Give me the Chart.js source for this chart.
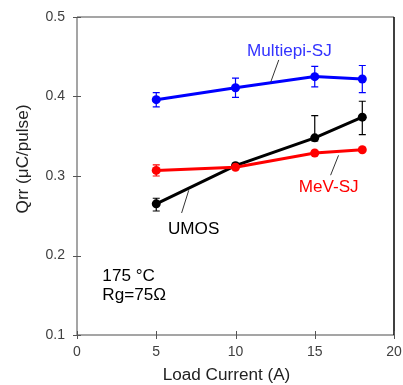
<!DOCTYPE html>
<html>
<head>
<meta charset="utf-8">
<script src="https://cdn.jsdelivr.net/npm/chart.js@4"></script>
<style>
body{margin:0;background:#fff;}
#wrap{width:403px;height:385px;}
</style>
</head>
<body>
<div id="wrap"><canvas id="c" width="403" height="385"></canvas></div>
<script>
// data
let current=[5,10,15,18];
let multiepi=[0.396,0.411,0.425,0.422];
let multiepiErr=[0.009,0.012,0.013,0.017];
let mev=[0.307,0.311,0.329,0.333];
let mevErr=[0.007,0.002,0.002,0.002];
let umos=[0.265,0.313,0.348,0.374];
let umosErrUp=[0.007,0.003,0.028,0.020];
let umosErrDown=[0.009,0.003,0.004,0.022];

let xTicks=[0,5,10,15,20];
let yTicks=[0.1,0.2,0.3,0.4,0.5];
let xTitle="Load Current (A)";
let yTitle="Qrr (μC/pulse)";

let FONT="'Liberation Sans', Arial, sans-serif";

function pts(ys){
return current.map((x,i)=>({x:x,y:ys[i]}));
}

/* labels with leader lines, in data units */
let notes=[
{text:"Multiepi-SJ",color:"#3333ff",x:13.4,y:0.456,line:[12.73,0.446,12.22,0.418]},
{text:"MeV-SJ",color:"#ff0000",x:15.88,y:0.285,line:[16.5,0.326,16.0,0.301]},
{text:"UMOS",color:"#000",x:7.36,y:0.232,line:[7.05,0.282,6.6,0.2535]},
{text:"175 °C",color:"#000",x:1.6,y:0.174,align:"left"},
{text:"Rg=75Ω",color:"#000",x:1.6,y:0.149,align:"left"}
];

// text a little wider than tall, like the original
function wideText(ctx,txt,x,y,align,rot){
ctx.save();
ctx.translate(x,y);
if(rot) ctx.rotate(rot);
ctx.scale(1.07,1);
ctx.textAlign=align||"center";
ctx.textBaseline="middle";
ctx.fillText(txt,0,0);
ctx.restore();
}

let errBars={
id:"errBars",
beforeDatasetsDraw(chart){
let ctx=chart.ctx, xs=chart.scales.x, ys=chart.scales.y;
chart.data.datasets.forEach(ds=>{
ctx.save();
ctx.strokeStyle=ds.borderColor;
ctx.lineWidth=1.2;
ds.data.forEach((p,i)=>{
let px=xs.getPixelForValue(p.x);
let top=ys.getPixelForValue(p.y+ds.errUp[i]);
let bot=ys.getPixelForValue(p.y-ds.errDown[i]);
ctx.beginPath();
ctx.moveTo(px,top);ctx.lineTo(px,bot);
ctx.moveTo(px-3.5,top);ctx.lineTo(px+3.5,top);
ctx.moveTo(px-3.5,bot);ctx.lineTo(px+3.5,bot);
ctx.stroke();
});
ctx.restore();
});
},
afterDraw(chart){
let ctx=chart.ctx, xs=chart.scales.x, ys=chart.scales.y, a=chart.chartArea;
ctx.save();
// frame
ctx.lineWidth=1.5;
ctx.strokeStyle="#888";
ctx.beginPath();
ctx.moveTo(a.left,a.top);ctx.lineTo(a.right,a.top);
ctx.moveTo(a.left,a.top);ctx.lineTo(a.left,a.bottom);ctx.lineTo(a.right,a.bottom);
ctx.stroke();
ctx.strokeStyle="#000";
ctx.beginPath();
ctx.moveTo(a.right,a.top);ctx.lineTo(a.right,a.bottom);
ctx.stroke();
// tick marks across axes
ctx.strokeStyle="#555";
ctx.lineWidth=1;
ctx.beginPath();
yTicks.forEach(v=>{
let py=Math.round(ys.getPixelForValue(v))+0.5;
ctx.moveTo(a.left-4,py);ctx.lineTo(a.left+4,py);
});
xTicks.forEach(v=>{
let px=Math.round(xs.getPixelForValue(v))+0.5;
ctx.moveTo(px,a.bottom-4);ctx.lineTo(px,a.bottom+4);
});
ctx.stroke();
// axis titles (slightly off-centre in the original)
ctx.font="16px "+FONT;
ctx.fillStyle="#222";
wideText(ctx,xTitle,(a.left+a.right)/2-9,376);
wideText(ctx,yTitle,24,(a.top+a.bottom)/2-17,"center",-Math.PI/2);
// notes
notes.forEach(n=>{
if(n.line){
ctx.strokeStyle="#333";
ctx.lineWidth=1;
ctx.beginPath();
ctx.moveTo(xs.getPixelForValue(n.line[0]),ys.getPixelForValue(n.line[1]));
ctx.lineTo(xs.getPixelForValue(n.line[2]),ys.getPixelForValue(n.line[3]));
ctx.stroke();
}
ctx.fillStyle=n.color;
wideText(ctx,n.text,xs.getPixelForValue(n.x),ys.getPixelForValue(n.y),n.align);
});
ctx.restore();
}
};

function series(label,ys,color,up,down){
return {
label:label,
data:pts(ys),
borderColor:color,
backgroundColor:color,
borderWidth:3,
pointRadius:4.5,
pointHoverRadius:4.5,
pointBorderWidth:0,
errUp:up,
errDown:down
};
}

new Chart(document.getElementById("c"),{
type:"line",
data:{datasets:[
series("Multiepi-SJ",multiepi,"#0000ff",multiepiErr,multiepiErr),
series("MeV-SJ",mev,"#ff0000",mevErr,mevErr),
series("UMOS",umos,"#000000",umosErrUp,umosErrDown)
]},
options:{
responsive:false,
animation:false,
events:[],
layout:{padding:{top:17,right:9,left:0,bottom:0}},
plugins:{legend:{display:false},tooltip:{enabled:false}},
scales:{
x:{
type:"linear",min:0,max:20,
afterBuildTicks(s){s.ticks=xTicks.map(v=>({value:v}));},
afterFit(s){s.height=50;s.paddingLeft=0;s.paddingRight=0;},
grid:{display:false,drawTicks:true,tickLength:4},
border:{display:false},
ticks:{color:"#404040",font:{family:FONT,size:14},padding:5},
title:{display:false}
},
y:{
min:0.1,max:0.5,
afterBuildTicks(s){s.ticks=yTicks.map(v=>({value:v}));},
afterFit(s){s.width=77;s.paddingTop=0;s.paddingBottom=0;},
grid:{display:false,drawTicks:true,tickLength:4},
border:{display:false},
ticks:{color:"#404040",font:{family:FONT,size:14},padding:8,callback:v=>v.toFixed(1)},
title:{display:false}
}
}
},
plugins:[errBars]
});
</script>
</body>
</html>
